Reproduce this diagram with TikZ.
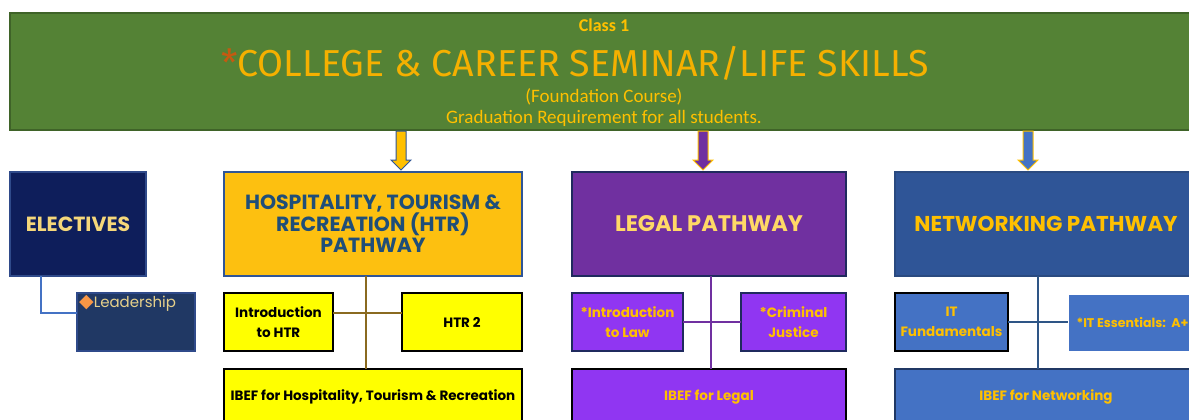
\documentclass[tikz,border=0pt]{standalone}
\usepackage{fontspec}
\setmainfont{Carlito}
\newfontfamily\headfont{Poppins}
\newfontfamily\titlefont{Fira Sans}
\newfontfamily\symfont{DejaVu Sans}
\usetikzlibrary{positioning}

\definecolor{banner}{HTML}{548235}
\definecolor{bannerline}{HTML}{3F6328}
\definecolor{gold}{HTML}{FFC000}
\definecolor{titlegold}{HTML}{F5B000}
\definecolor{paleyellow}{HTML}{FFD966}
\definecolor{rust}{HTML}{C55A11}
\definecolor{navy}{HTML}{0E1E5B}
\definecolor{navyline}{HTML}{2F4A8A}
\definecolor{tan}{HTML}{F5D77A}
\definecolor{htrfill}{HTML}{FDC010}
\definecolor{htrtext}{HTML}{1F4E79}
\definecolor{htrline}{HTML}{2F5597}
\definecolor{brightyellow}{HTML}{FFFF00}
\definecolor{htrlink}{HTML}{8A6A20}
\definecolor{legalfill}{HTML}{7030A0}
\definecolor{legalline}{HTML}{1F2A5E}
\definecolor{legalsub}{HTML}{9036F2}
\definecolor{netfill}{HTML}{2F5597}
\definecolor{netline}{HTML}{2A4A80}
\definecolor{netsub}{HTML}{4472C4}
\definecolor{netlink}{HTML}{2E5586}
\definecolor{leadfill}{HTML}{203864}
\definecolor{leadtext}{HTML}{E6D08A}
\definecolor{diamond}{HTML}{F79646}

\tikzset{
	box/.style={draw, line width=1.2pt, inner sep=2pt, outer sep=0pt, anchor=north west, align=center},
	hdr/.style={box, minimum height=104, font=\headfont\bfseries\fontsize{21.5}{24}\selectfont},
	course/.style={box, minimum height=58, font=\headfont\bfseries\fontsize{13.5}{19.5}\selectfont},
	ibef/.style={box, minimum height=56, font=\headfont\bfseries\fontsize{13.5}{19.5}\selectfont},
	bannertext/.style={text=gold, inner sep=0pt, font=\fontsize{19}{22}\selectfont},
	link/.style={line width=2pt}
}

% block arrow from the banner down to a pathway box: x, fill, outline
\newcommand{\blockarrow}[3]{%
	\draw [line width=1pt, fill=#2, draw=#3] ({#1-5},131) -- ({#1+5},131) -- ({#1+5},160) -- ({#1+10},160) -- (#1,170) -- ({#1-10},160) -- ({#1-5},160) -- cycle;}

\begin{document}
\begin{tikzpicture}[x=1pt, y=-1pt]
	\useasboundingbox (0,0) rectangle (1189,420);
	\clip (0,0) rectangle (1189,420);
	
	% foundation course
	\node [box, fill=banner, draw=bannerline, minimum width=1187, minimum height=117] (banner) at (10,13) {};
	\node [bannertext, font=\bfseries\fontsize{18}{21}\selectfont] (cls) at (604,25) {Class 1};
	\node [bannertext, text=titlegold, font=\titlefont\fontsize{37.5}{42}\selectfont] (title) at (575,63) {\textcolor{rust}{*}COLLEGE \& CAREER SEMINAR/LIFE SKILLS};
	\node [bannertext] (found) at (604,97) {(Foundation Course)};
	\node [bannertext] (gradreq) at (604,118) {Graduation Requirement for all students.};
	
	% pathway headers
	\node [hdr, fill=navy, draw=navyline, text=tan, minimum width=136, font=\headfont\bfseries\fontsize{20.5}{24}\selectfont] (elect) at (10,172) {ELECTIVES};
	\node [hdr, fill=htrfill, draw=htrline, text=htrtext, minimum width=298, font=\headfont\bfseries\fontsize{20.5}{21.5}\selectfont] (htr) at (224,172) {HOSPITALITY, TOURISM \&\\ RECREATION (HTR)\\ PATHWAY};
	\node [hdr, fill=legalfill, draw=legalline, text=paleyellow, minimum width=274, font=\headfont\bfseries\fontsize{22.5}{24}\selectfont] (legal) at (572,172) {LEGAL PATHWAY};
	\node [hdr, fill=netfill, draw=netline, text=gold, minimum width=302] (netw) at (895,172) {NETWORKING PATHWAY};
	
	\blockarrow{401}{gold}{htrline}
	\blockarrow{703}{legalfill}{gold}
	\blockarrow{1028}{netsub}{gold}
	
	% courses
	\node [box, fill=leadfill, draw=navyline, minimum width=118, minimum height=58,
		label={[anchor=north west, inner sep=2pt, text=leadtext, font=\headfont\fontsize{15}{17}\selectfont]north west:{\symfont\fontsize{19}{19}\selectfont\textcolor{diamond}{◆}}Leadership}] (lead) at (77,293) {};
	
	\node [course, fill=brightyellow, draw=black, minimum width=109] (introhtr) at (224,293) {Introduction\\ to HTR};
	\node [course, fill=brightyellow, draw=black, minimum width=120] (htrtwo) at (402,293) {HTR 2};
	\node [ibef, fill=brightyellow, draw=black, minimum width=298] (ibefhtr) at (224,369) {IBEF for Hospitality, Tourism \& Recreation};
	
	\node [course, fill=legalsub, draw=legalline, text=gold, minimum width=111] (introlaw) at (572,293) {*Introduction\\ to Law};
	\node [course, fill=legalsub, draw=legalline, text=gold, minimum width=105] (crimj) at (741,293) {*Criminal\\ Justice};
	\node [ibef, fill=legalsub, draw=black, text=gold, minimum width=274] (ibeflegal) at (572,369) {IBEF for Legal};
	
	\node [course, fill=netsub, draw=black, text=gold, minimum width=113] (itfund) at (895,293) {IT\\ Fundamentals};
	\node [course, fill=netsub, draw=white, line width=0.6pt, text=gold, minimum width=129, minimum height=57, font=\headfont\bfseries\fontsize{12.6}{19.5}\selectfont] (itess) at (1068,294) {*IT Essentials:\ \ A+};
	\node [ibef, fill=netsub, draw=leadfill, text=gold, minimum width=302] (ibefnet) at (895,369) {IBEF for Networking};
	
	% links
	\draw [link, draw=netsub] ([xshift=31pt]elect.south west) |- ([yshift=-20pt]lead.north west);
	
	\coordinate (htrjoin) at (366,313);
	\draw [link, draw=htrlink] (htr.south -| htrjoin) -- (ibefhtr.north -| htrjoin);
	\draw [link, draw=htrlink] (introhtr.east |- htrjoin) -- (htrtwo.west |- htrjoin);
	
	\coordinate (legaljoin) at (711,322);
	\draw [link, draw=legalfill] (legal.south -| legaljoin) -- (ibeflegal.north -| legaljoin);
	\draw [link, draw=legalfill] (introlaw.east |- legaljoin) -- (crimj.west |- legaljoin);
	
	\coordinate (netjoin) at (1038,322);
	\draw [link, draw=netlink] (netw.south -| netjoin) -- (ibefnet.north -| netjoin);
	\draw [link, draw=netlink] (itfund.east |- netjoin) -- (itess.west |- netjoin);
	
\end{tikzpicture}
\end{document}
